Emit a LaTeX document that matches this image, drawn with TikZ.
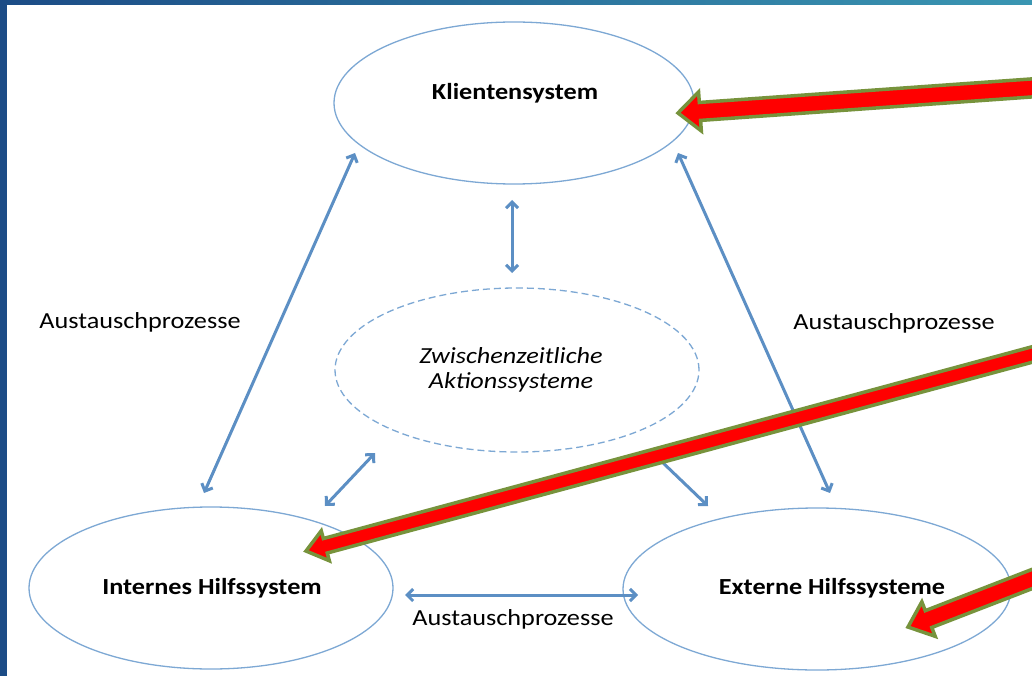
\documentclass[tikz,border=0pt]{standalone}
\usepackage{fontspec}
\setmainfont{Carlito}
\usepackage{graphicx}
\usetikzlibrary{arrows.meta,calc,shapes.geometric}
\definecolor{frameA}{RGB}{28,76,134}
\definecolor{frameB}{RGB}{58,150,178}
\definecolor{ellc}{RGB}{125,168,212}
\definecolor{conn}{RGB}{92,143,196}
\definecolor{olivegreen}{RGB}{119,147,60}
\newcommand{\sx}[1]{\scalebox{1.14}[1]{#1}}
\newcommand{\fatarrow}[6]{%
  \coordinate (#1) at ($(#3)!#6!(#2)$);
  \draw[redarrow] ($(#2)!#4!90:(#3)$) -- ($(#1)!#4!-90:(#2)$) -- ($(#1)!#5!-90:(#2)$) -- (#3)
    -- ($(#1)!#5!90:(#2)$) -- ($(#1)!#4!90:(#2)$) -- ($(#2)!#4!-90:(#3)$) -- cycle;}
\begin{document}
\begin{tikzpicture}[x=1pt,y=-1pt,
  ell/.style={ellipse, draw=ellc, line width=1.3pt, inner sep=0pt, outer sep=0pt},
  dashell/.style={ell, dash pattern=on 7pt off 4pt},
  boldlab/.style={font=\fontsize{23}{27}\selectfont\bfseries, inner sep=0pt},
  itlab/.style={font=\fontsize{23}{25}\selectfont\itshape, inner sep=0pt, align=center},
  lab/.style={font=\fontsize{23}{27}\selectfont, inner sep=0pt},
  conn/.style={draw=conn, line width=3pt, {Straight Barb[length=6pt,width=12pt]}-{Straight Barb[length=6pt,width=12pt]}},
  connone/.style={draw=conn, line width=3pt, -{Straight Barb[length=6pt,width=12pt]}},
  redarrow/.style={fill=red, draw=olivegreen, line width=3.5pt, line join=miter}
]
\useasboundingbox (0,0) rectangle (1032,676);
\clip (0,0) rectangle (1032,676);
\fill[white] (0,0) rectangle (1032,676);
% frame
\shade[left color=frameA, right color=frameB] (0,0) rectangle (1032,5);
\fill[frameA] (0,0) rectangle (7,676);

% ellipses
\node[ell, minimum width=360pt, minimum height=162pt] (K) at (514,103) {};
\node[dashell, minimum width=364pt, minimum height=164pt] (Z) at (517,370) {};
\node[ell, minimum width=364pt, minimum height=162pt] (I) at (211,588) {};
\node[ell, minimum width=388pt, minimum height=162pt] (E) at (817,589) {};

% texts
\node[boldlab] (Kt) at (515,93) {\sx{Klientensystem}};
\node[itlab] (Zt) at (511,370) {\sx{Zwischenzeitliche}\\\sx{Aktionssysteme}};
\node[boldlab] (It) at (212,588) {\sx{Internes Hilfssystem}};
\node[boldlab] (Et) at (832,588) {\sx{Externe Hilfssysteme}};
\node[lab] (A1) at (140,322) {\sx{Austauschprozesse}};
\node[lab] (A2) at (894,323) {\sx{Austauschprozesse}};
\node[lab] (A3) at (513,619) {\sx{Austauschprozesse}};

% connectors
\draw[conn] ($(K)+(-159,50)$) -- ($(I)+(-7,-95)$);
\draw[conn] ($(K)+(164,50)$) -- ($(E)+(13,-96)$);
\draw[conn] ($(K)+(-2,97)$) -- ($(Z)+(-5,-97)$);
\draw[conn] ($(Z)+(-142,83)$) -- ($(I)+(114,-82)$);
\draw[connone] ($(Z)+(143,90)$) -- ($(E)+(-109,-83)$);
\draw[conn] ($(I)+(194,7)$) -- ($(E)+(-179,6)$);

% red pointer arrows
\coordinate (r1t) at (1045,87);
\coordinate (r1p) at (678,113);
\coordinate (r2t) at (1045,351);
\coordinate (r2p) at (306,551);
\coordinate (r3t) at (1045,574);
\coordinate (r3p) at (908,627);
\fatarrow{r1h}{r1t}{r1p}{9pt}{19.5pt}{22pt}
\fatarrow{r2h}{r2t}{r2p}{7.5pt}{15.5pt}{20pt}
\fatarrow{r3h}{r3t}{r3p}{9pt}{18.5pt}{22pt}
\end{tikzpicture}
\end{document}
